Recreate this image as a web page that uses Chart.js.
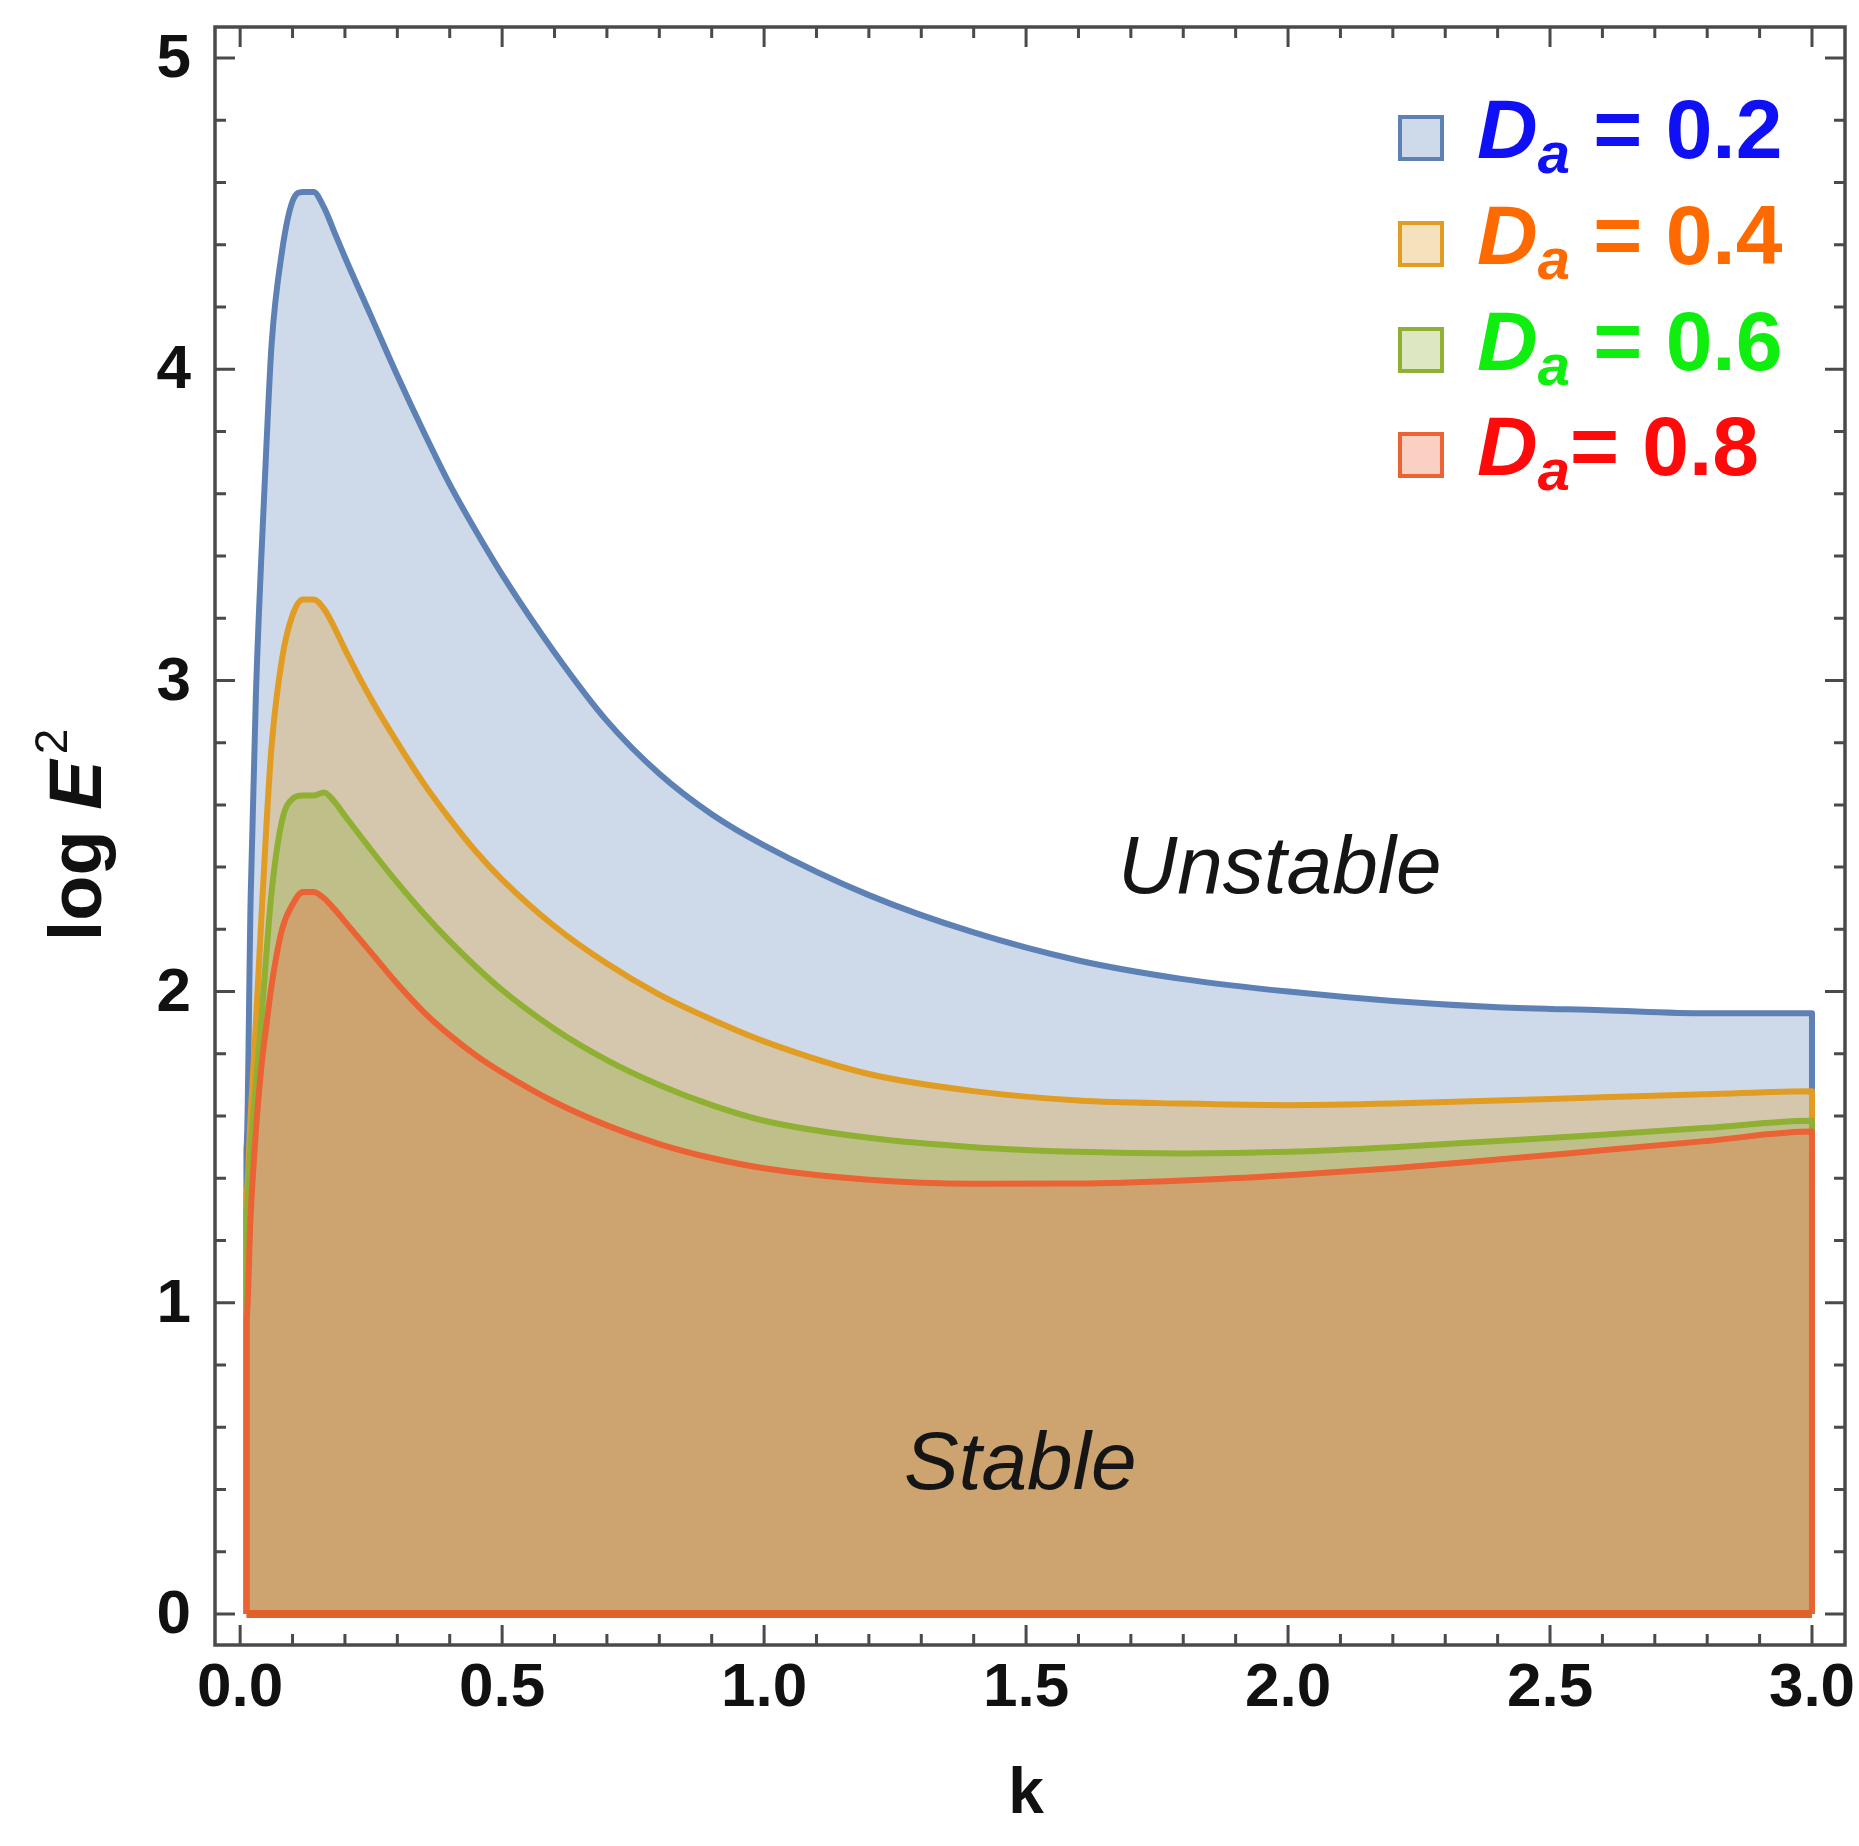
<!doctype html>
<html>
<head>
<meta charset="utf-8">
<title>log E² against k</title>
<script src="https://cdn.jsdelivr.net/npm/chart.js"></script>
<style>
  html, body { margin: 0; padding: 0; background: #ffffff; }
  canvas { display: block; }
</style>
</head>
<body>
<canvas id="stabilityChart" width="1859" height="1846"></canvas>
<script>
// wave number k, shared by all four boundaries
const kValues = [0.012, 0.02, 0.03, 0.04, 0.05, 0.06, 0.08, 0.10, 0.12, 0.14,
  0.16, 0.18, 0.20, 0.25, 0.30, 0.35, 0.40, 0.45, 0.50, 0.60,
  0.70, 0.80, 0.90, 1.00, 1.20, 1.40, 1.60, 1.80, 2.00, 2.20,
  2.40, 2.60, 2.80, 3.00];

// log E^2 on the stability boundary
const logE2Da02 = [1.50, 2.30, 2.95, 3.38, 3.75, 4.08, 4.38, 4.54, 4.57, 4.57,
  4.52, 4.44, 4.36, 4.17, 3.98, 3.80, 3.63, 3.48, 3.34, 3.09,
  2.87, 2.70, 2.57, 2.47, 2.31, 2.19, 2.10, 2.04, 2.00, 1.97,
  1.95, 1.94, 1.93, 1.93];
const logE2Da04 = [1.35, 1.60, 1.90, 2.22, 2.53, 2.79, 3.07, 3.21, 3.26, 3.26,
  3.23, 3.17, 3.10, 2.94, 2.80, 2.67, 2.555, 2.45, 2.36, 2.21,
  2.09, 1.99, 1.91, 1.84, 1.735, 1.68, 1.65, 1.64, 1.635, 1.64,
  1.65, 1.66, 1.67, 1.68];
const logE2Da06 = [1.30, 1.50, 1.70, 1.90, 2.12, 2.32, 2.55, 2.62, 2.63, 2.63,
  2.64, 2.61, 2.565, 2.455, 2.35, 2.252, 2.162, 2.08, 2.005, 1.88,
  1.78, 1.70, 1.635, 1.585, 1.53, 1.50, 1.485, 1.48, 1.485, 1.50,
  1.52, 1.54, 1.562, 1.585];
const logE2Da08 = [0.95, 1.28, 1.55, 1.75, 1.89, 2.02, 2.20, 2.28, 2.32, 2.32,
  2.30, 2.265, 2.225, 2.125, 2.025, 1.935, 1.86, 1.795, 1.74, 1.645,
  1.57, 1.51, 1.465, 1.432, 1.395, 1.382, 1.383, 1.393, 1.41, 1.432,
  1.46, 1.49, 1.52, 1.55];

const legendValues = [" = 0.2", " = 0.4", " = 0.6", "= 0.8"];
const xTickValues = [0, 0.5, 1.0, 1.5, 2.0, 2.5, 3.0];
const xTickLabels = ["0.0", "0.5", "1.0", "1.5", "2.0", "2.5", "3.0"];
const yTickValues = [0, 1, 2, 3, 4, 5];
const yTickLabels = ["0", "1", "2", "3", "4", "5"];

const lineColors = ["#5E81B5", "#E19C24", "#8FB032", "#EB6235"];
const fillColors = ["rgba(94,129,181,0.3)", "rgba(225,156,36,0.3)",
  "rgba(143,176,50,0.3)", "rgba(235,98,53,0.3)"];
const textColors = ["#1010F5", "#FF6A00", "#10EE10", "#FF0A0A"];

const FONT = '"Liberation Sans", Arial, sans-serif';

// region outline: up the left edge, along the boundary, down the right edge
function regionPoints(values) {
  const last = kValues.length - 1;
  const pts = [{ x: kValues[0], y: 0 }];
  kValues.forEach((k, i) => pts.push({ x: k, y: values[i] }));
  pts.push({ x: kValues[last], y: 0 });
  return pts;
}

const series = [logE2Da02, logE2Da04, logE2Da06, logE2Da08];
const datasets = series.map((vals, i) => ({
  label: "Da" + legendValues[i],
  data: regionPoints(vals),
  borderColor: lineColors[i],
  backgroundColor: fillColors[i],
  borderWidth: 6,
  borderJoinStyle: "round",
  fill: "origin",
  pointRadius: 0,
  cubicInterpolationMode: "monotone",
  order: 4 - i,
}));
// bottom edge of the regions
datasets.push({
  label: "base",
  data: [{ x: kValues[0], y: 0 }, { x: kValues[kValues.length - 1], y: 0 }],
  borderColor: "#E2602A",
  borderWidth: 8,
  pointRadius: 0,
  fill: false,
  order: 0,
});

const framePlugin = {
  id: "frameAndLabels",
  afterDraw(chart) {
    const { ctx, chartArea: a, scales: { x, y } } = chart;
    ctx.save();

    // frame
    ctx.strokeStyle = "#4a4a4a";
    ctx.lineWidth = 3.5;
    ctx.strokeRect(a.left, a.top, a.right - a.left, a.bottom - a.top);

    // inward ticks on all four sides
    ctx.lineWidth = 3;
    ctx.beginPath();
    for (let i = 0; i <= 30; i++) {
      const px = x.getPixelForValue(i / 10);
      const len = i % 5 === 0 ? 20 : 11;
      ctx.moveTo(px, a.bottom);
      ctx.lineTo(px, a.bottom - len);
      ctx.moveTo(px, a.top);
      ctx.lineTo(px, a.top + len);
    }
    for (let i = 0; i <= 25; i++) {
      const py = y.getPixelForValue(i / 5);
      const len = i % 5 === 0 ? 20 : 11;
      ctx.moveTo(a.left, py);
      ctx.lineTo(a.left + len, py);
      ctx.moveTo(a.right, py);
      ctx.lineTo(a.right - len, py);
    }
    ctx.stroke();

    // tick labels
    ctx.fillStyle = "#111";
    ctx.font = "bold 62px " + FONT;
    ctx.textAlign = "center";
    ctx.textBaseline = "middle";
    xTickValues.forEach((v, i) => {
      ctx.fillText(xTickLabels[i], x.getPixelForValue(v), a.bottom + 44);
    });
    ctx.textAlign = "right";
    yTickValues.forEach((v, i) => {
      ctx.fillText(yTickLabels[i], a.left - 24, y.getPixelForValue(v) + 2);
    });

    // axis titles
    ctx.textAlign = "center";
    ctx.font = "bold 64px " + FONT;
    ctx.fillText("k", (x.getPixelForValue(0) + x.getPixelForValue(3)) / 2, a.bottom + 150);

    ctx.save();
    ctx.translate(101, 835);
    ctx.rotate(-Math.PI / 2);
    ctx.textAlign = "left";
    ctx.textBaseline = "alphabetic";
    const p1 = "log ";
    ctx.font = "bold 74px " + FONT;
    const w1 = ctx.measureText(p1).width;
    ctx.font = "italic bold 74px " + FONT;
    const w2 = ctx.measureText("E").width;
    ctx.font = "46px " + FONT;
    const w3 = ctx.measureText("2").width;
    let sx = -(w1 + w2 + w3 + 6) / 2;
    ctx.font = "bold 74px " + FONT;
    ctx.fillText(p1, sx, 0);
    sx += w1;
    ctx.font = "italic bold 74px " + FONT;
    ctx.fillText("E", sx, 0);
    sx += w2 + 6;
    ctx.font = "46px " + FONT;
    ctx.fillText("2", sx, -34);
    ctx.restore();

    // region annotations
    ctx.fillStyle = "#151515";
    ctx.textAlign = "left";
    ctx.textBaseline = "alphabetic";
    ctx.font = "italic 82px " + FONT;
    ctx.fillText("Unstable", 1118, 893);
    ctx.fillText("Stable", 904, 1489);

    // legend
    const rowY = [138, 244, 350, 455];
    legendValues.forEach((txt, i) => {
      const cy = rowY[i];
      ctx.fillStyle = "#ffffff";
      ctx.fillRect(1400, cy - 21, 42, 42);
      ctx.fillStyle = fillColors[i];
      ctx.fillRect(1400, cy - 21, 42, 42);
      ctx.strokeStyle = lineColors[i];
      ctx.lineWidth = 4;
      ctx.strokeRect(1400, cy - 21, 42, 42);

      ctx.fillStyle = textColors[i];
      let tx = 1477;
      ctx.font = "italic bold 84px " + FONT;
      ctx.fillText("D", tx, cy + 20);
      tx += ctx.measureText("D").width;
      ctx.font = "italic bold 58px " + FONT;
      ctx.fillText("a", tx, cy + 35);
      tx += ctx.measureText("a").width;
      ctx.font = "bold 84px " + FONT;
      ctx.fillText(txt, tx, cy + 20);
    });

    ctx.restore();
  },
};

new Chart(document.getElementById("stabilityChart"), {
  type: "line",
  data: { datasets: datasets },
  options: {
    responsive: false,
    devicePixelRatio: 1,
    animation: false,
    layout: { padding: { left: 215, top: 27, right: 14, bottom: 201 } },
    scales: {
      x: { type: "linear", min: -0.048, max: 3.063, display: false },
      y: { type: "linear", min: -0.10, max: 5.10, display: false },
    },
    plugins: {
      legend: { display: false },
      tooltip: { enabled: false },
    },
  },
  plugins: [framePlugin],
});
</script>
</body>
</html>
